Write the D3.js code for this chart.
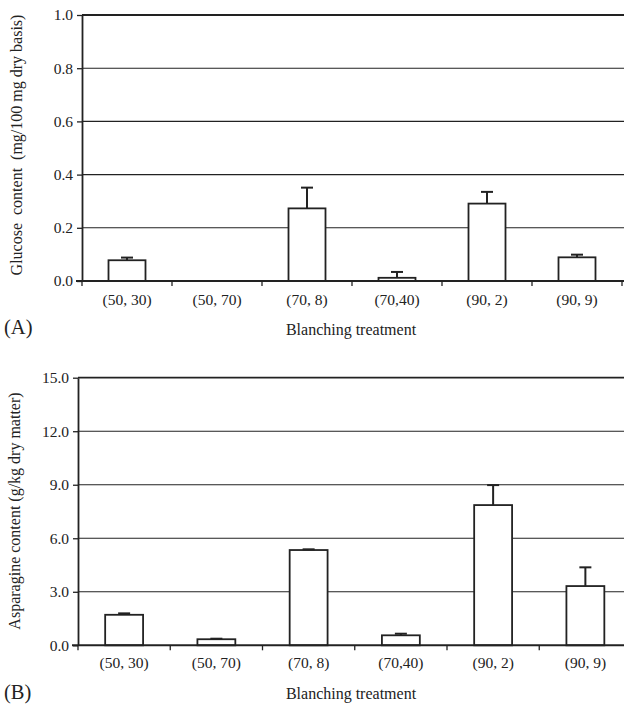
<!DOCTYPE html>
<html>
<head>
<meta charset="utf-8">
<script src="https://cdn.jsdelivr.net/npm/d3@7"></script>
<style>
  html, body { margin: 0; padding: 0; background: #fff; }
  svg { display: block; }
  text { font-family: "Liberation Serif", "Times New Roman", serif; fill: #222; }
</style>
</head>
<body>
<svg id="chart" width="624" height="705"></svg>
<script>
// ---- Data ----
const categories = ["(50, 30)", "(50, 70)", "(70, 8)", "(70,40)", "(90, 2)", "(90, 9)"];
const glucose = [0.078, 0.0, 0.273, 0.012, 0.291, 0.089];
const glucoseErr = [0.010, 0.0, 0.078, 0.022, 0.044, 0.010];
const glucoseTicks = [0.0, 0.2, 0.4, 0.6, 0.8, 1.0];
const asparagine = [1.71, 0.34, 5.34, 0.56, 7.86, 3.32];
const asparagineErr = [0.08, 0.03, 0.04, 0.09, 1.12, 1.05];
const asparagineTicks = [0.0, 3.0, 6.0, 9.0, 12.0, 15.0];

const svg = d3.select("#chart");
const SERIF = '"Liberation Serif", "Times New Roman", serif';

function panel(opts) {
  const g = svg.append("g");
  const pi = 0.589;
  const x = d3.scaleBand().domain(categories)
    .range([opts.x0, opts.x1]).paddingInner(pi).paddingOuter(pi / 2);
  const y = d3.scaleLinear().domain([0, opts.max]).range([opts.y0, opts.y1]);

  // gridlines
  g.selectAll(".grid").data(opts.ticks.filter(t => t > 0)).join("line")
    .attr("x1", opts.x0).attr("x2", opts.x1 + 20)
    .attr("y1", d => y(d)).attr("y2", d => y(d))
    .attr("stroke", "#222")
    .attr("stroke-width", d => d === opts.max ? 1.8 : 1.1);

  // bars
  g.selectAll(".bar").data(categories).join("rect")
    .attr("x", d => x(d))
    .attr("width", x.bandwidth())
    .attr("y", (d, i) => y(opts.values[i]))
    .attr("height", (d, i) => y(0) - y(opts.values[i]))
    .attr("fill", "#fff")
    .attr("stroke", "#222")
    .attr("stroke-width", 1.8);

  // error bars
  const eb = g.selectAll(".err").data(categories.filter((d, i) => opts.err[i] > 0)).join("g");
  eb.append("line")
    .attr("x1", d => x(d) + x.bandwidth() / 2).attr("x2", d => x(d) + x.bandwidth() / 2)
    .attr("y1", d => y(opts.values[categories.indexOf(d)]))
    .attr("y2", d => { const i = categories.indexOf(d); return y(opts.values[i] + opts.err[i]); })
    .attr("stroke", "#222").attr("stroke-width", 2);
  eb.append("line")
    .attr("x1", d => x(d) + x.bandwidth() / 2 - 6).attr("x2", d => x(d) + x.bandwidth() / 2 + 6)
    .attr("y1", d => { const i = categories.indexOf(d); return y(opts.values[i] + opts.err[i]); })
    .attr("y2", d => { const i = categories.indexOf(d); return y(opts.values[i] + opts.err[i]); })
    .attr("stroke", "#222").attr("stroke-width", 2);

  // y axis
  const ya = g.append("g").attr("transform", `translate(${opts.x0},0)`)
    .call(d3.axisLeft(y).tickValues(opts.ticks).tickFormat(d3.format(".1f")).tickSize(5).tickSizeOuter(0));
  ya.select(".domain").attr("stroke", "#222").attr("stroke-width", 1.8);
  ya.selectAll(".tick line").attr("stroke", "#222").attr("stroke-width", 1.3);
  ya.selectAll(".tick text").attr("font-size", 15.5).attr("dx", -1)
    .style("font-family", SERIF).attr("fill", "#222");

  // x axis
  const xa = g.append("g").attr("transform", `translate(0,${opts.y0})`)
    .call(d3.axisBottom(x).tickSize(0).tickSizeOuter(0).tickPadding(opts.xPad));
  xa.select(".domain").remove();
  xa.selectAll(".tick text").attr("font-size", 15.5)
    .style("font-family", SERIF).attr("fill", "#222");
  g.append("line")
    .attr("x1", opts.x0 - 6).attr("x2", opts.x1 + 20)
    .attr("y1", opts.y0).attr("y2", opts.y0)
    .attr("stroke", "#222").attr("stroke-width", 2);
  const bounds = d3.range(categories.length + 1).map(i => opts.x0 + i * x.step());
  g.selectAll(".xt").data(bounds).join("line")
    .attr("x1", d => d).attr("x2", d => d)
    .attr("y1", opts.y0).attr("y2", opts.y0 + 5)
    .attr("stroke", "#222").attr("stroke-width", 1.3);

  // titles
  g.append("text")
    .attr("transform", `translate(${opts.titleX},${opts.titleY}) rotate(-90)`)
    .attr("text-anchor", "middle").attr("font-size", 16)
    .style("white-space", "pre")
    .text(opts.yTitle);
  g.append("text")
    .attr("x", 351)
    .attr("y", opts.xTitleY)
    .attr("text-anchor", "middle").attr("font-size", 16)
    .text("Blanching treatment");
  g.append("text")
    .attr("x", 4).attr("y", opts.tagY)
    .attr("font-size", 20.5)
    .text(opts.tag);
}

panel({
  x0: 82, x1: 622, y0: 281, y1: 15, max: 1.0,
  ticks: glucoseTicks, values: glucose, err: glucoseErr,
  yTitle: "Glucose\u00a0 content\u00a0 (mg/100 mg dry basis)", titleX: 22, titleY: 145,
  xPad: 13, xTitleY: 335, tagY: 334, tag: "(A)"
});

panel({
  x0: 78, x1: 631.5, y0: 645.3, y1: 377.7, max: 15.0,
  ticks: asparagineTicks, values: asparagine, err: asparagineErr,
  yTitle: "Asparagine content (g/kg dry matter)", titleX: 20, titleY: 511,
  xPad: 12, xTitleY: 699, tagY: 699, tag: "(B)"
});
</script>
</body>
</html>
